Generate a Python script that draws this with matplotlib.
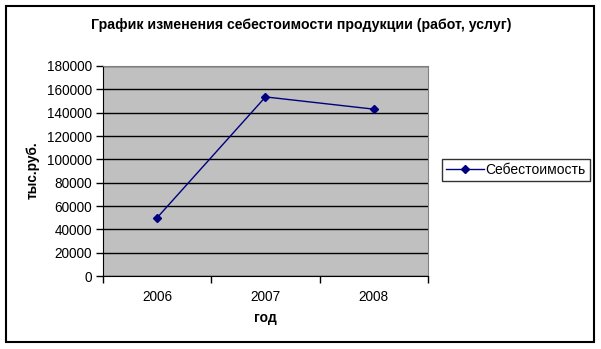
import matplotlib.pyplot as plt
from matplotlib.patches import Rectangle
from matplotlib.lines import Line2D

plt.rcParams['font.family'] = ['Liberation Sans', 'DejaVu Sans']

years = ['2006', '2007', '2008']
cost = [50000, 153500, 143000]
y_ticks = list(range(0, 180001, 20000))

W, H = 601, 349
fig = plt.figure(figsize=(W / 100, H / 100), dpi=100)

def fx(px):
    return px / W

def fy(py):
    return 1 - py / H

# outer chart frame
fig.patches.append(Rectangle((fx(6), fy(342)), fx(588), 336 / H, transform=fig.transFigure,
                             fill=False, edgecolor='black', linewidth=1.5))

ax = fig.add_axes([fx(103), fy(276), fx(325), 210 / H])
ax.set_facecolor('#C0C0C0')
x = list(range(len(years)))
ax.plot(x, cost, color='#000080', linewidth=1, marker='D', markersize=4.5,
        markerfacecolor='#000080', markeredgecolor='#000080', zorder=3)

ax.set_xlim(-0.5, len(years) - 0.5)
ax.set_ylim(0, 180000)
ax.set_yticks(y_ticks)
ax.set_yticklabels([str(v) for v in y_ticks], fontsize=9.8)
ax.yaxis.grid(True, color='black', linewidth=1)
ax.set_axisbelow(True)

ax.set_xticks([i - 0.5 for i in range(len(years) + 1)])
ax.set_xticklabels([])
ax.set_xticks(x, minor=True)
ax.set_xticklabels(years, minor=True, fontsize=9.8)
ax.tick_params(axis='x', which='minor', length=0, pad=10)
ax.tick_params(axis='x', which='major', length=5, direction='out', width=1)
ax.tick_params(axis='y', length=5, direction='out', width=1, pad=3)

for side in ['top', 'right']:
    ax.spines[side].set_color('#808080')
for side in ['left', 'bottom']:
    ax.spines[side].set_color('black')

fig.text(fx(301), fy(25), 'График изменения себестоимости продукции (работ, услуг)',
         ha='center', va='center', fontsize=10.15, fontweight='bold')
fig.text(fx(33), fy(170), 'тыс.руб.', rotation=90, ha='center', va='center',
         fontsize=9.8, fontweight='bold')
fig.text(fx(265), fy(318), 'год', ha='center', va='center', fontsize=10, fontweight='bold')

handle = Line2D([], [], color='#000080', linewidth=1, marker='D', markersize=4.5,
                markerfacecolor='#000080', markeredgecolor='#000080')
leg = fig.legend([handle], ['Себестоимость'], loc='center left',
                 bbox_to_anchor=(fx(442), fy(170)), fontsize=10, frameon=True,
                 fancybox=False, edgecolor='black', handlelength=2.7,
                 borderpad=0.3, handletextpad=0.15, borderaxespad=0)
leg.get_frame().set_linewidth(1)

fig.savefig('out.png', dpi=100)
